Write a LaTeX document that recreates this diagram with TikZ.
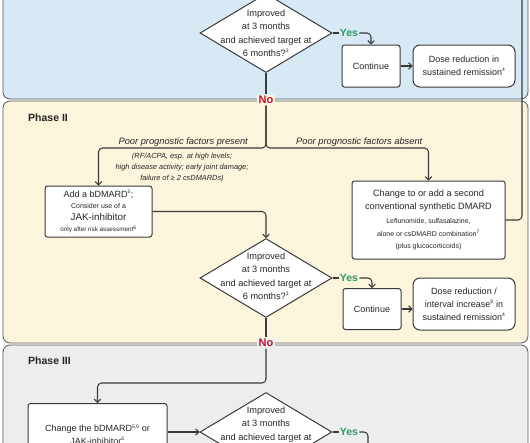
\documentclass[tikz,border=0pt]{standalone}
\usepackage{fontspec}
\setmainfont{Liberation Sans}
\usetikzlibrary{arrows.meta,shapes.geometric}
\definecolor{pone}{HTML}{D6E9F5}
\definecolor{ptwo}{HTML}{FBF5DC}
\definecolor{pthree}{HTML}{ECEEEE}
\definecolor{pborder}{HTML}{555555}
\definecolor{conncol}{HTML}{3A3A3A}
\definecolor{yescol}{HTML}{2E9B5C}
\definecolor{nocol}{HTML}{C8102E}
\tikzset{
  panel/.style={draw=pborder,line width=0.8pt,rounded corners=7pt},
  conn/.style={draw=conncol,line width=1.05pt,rounded corners=4pt},
  arr/.style={-{Straight Barb[length=3.2pt,width=6.5pt]}},
  dia/.style={shape=diamond,draw=conncol,line width=1pt,fill=white,minimum width=132pt,minimum height=79pt,inner sep=0pt},
  diatext/.style={align=center,font=\fontsize{9.2}{13.5}\selectfont,text=black!85,inner sep=0pt},
  boxs/.style={draw=conncol,line width=1pt,fill=white,rounded corners=2.5pt,align=center,font=\fontsize{9}{12.5}\selectfont,text=black!85,inner sep=0pt},
  boxr/.style={draw=conncol,line width=1pt,fill=white,rounded corners=7pt,align=center,font=\fontsize{9}{13}\selectfont,text=black!85,inner sep=0pt},
  yeslab/.style={font=\fontsize{10.5}{12}\selectfont\bfseries,text=yescol,inner sep=1pt},
  nolab/.style={font=\fontsize{11}{12}\selectfont\bfseries,text=nocol,inner sep=1.5pt},
  phaselab/.style={font=\fontsize{10.5}{12}\selectfont\bfseries,text=black!85,anchor=west,inner sep=0pt},
  itlab/.style={font=\fontsize{9.3}{10}\selectfont\itshape,text=black!85,inner sep=0pt},
  smallit/.style={font=\fontsize{7.4}{11}\selectfont\itshape,text=black!85,align=center,inner sep=0pt}
}
\newcommand{\sps}[1]{\textsuperscript{\fontsize{5}{5}\selectfont #1}}
\begin{document}
\begin{tikzpicture}[x=1pt,y=-1pt]
\useasboundingbox (0,0) rectangle (530,442);
% panels
\path[panel,fill=pone] (3,-30) rectangle (528,99);
\path[panel,fill=ptwo] (3,101) rectangle (528,343);
\path[panel,fill=pthree] (3,345) rectangle (528,480);

% Phase I
\node[dia] (d1) at (266,33) {};
\node[diatext] (d1t) at (266,33) {Improved\\at 3 months\\and achieved target at\\6 months?\sps{3}};
\node[yeslab] (y1) at (349,33) {Yes};
\node[boxs,minimum width=58pt,minimum height=42pt] (c1) at (371,66) {Continue};
\node[boxr,minimum width=102pt,minimum height=42pt] (r1) at (464,66) {Dose reduction in\\sustained remission\sps{4}};
\node[nolab,fill=ptwo] (no1) at (266,100) {No};

% Phase II
\node[phaselab] (ph2) at (28,118) {Phase II};
\coordinate (sp2) at (266,148);
\node[itlab,anchor=east] (ppp) at (248,142) {Poor prognostic factors present};
\node[itlab,anchor=west] (ppa) at (296,142) {Poor prognostic factors absent};
\node[smallit] (ppd) at (182,168) {(RF/ACPA, esp. at high levels;\\high disease activity; early joint damage;\\failure of \char"2265\ 2 csDMARDs)};
\node[boxs,minimum width=107pt,minimum height=51pt] (b1) at (98.5,211.5) {%
  \fontsize{9}{11}\selectfont Add a bDMARD\sps{5};\\[-1pt]
  \fontsize{7}{10}\selectfont Consider use of a\\[-1pt]
  \fontsize{9.8}{11}\selectfont JAK-inhibitor\\[-1pt]
  \fontsize{6.3}{9}\selectfont only after risk assessment\sps{6}};
\node[boxs,minimum width=153pt,minimum height=78pt] (ch) at (428.5,220) {%
  \fontsize{9.2}{13.5}\selectfont Change to or add a second\\
  \fontsize{9.2}{13.5}\selectfont conventional synthetic DMARD\\[2pt]
  \fontsize{7}{10}\selectfont Leflunomide, sulfasalazine,\\
  \fontsize{7}{10}\selectfont alone or csDMARD combination\sps{7}\\
  \fontsize{7}{10}\selectfont (plus glucocorticoids)};
\coordinate (up1) at (522,-30);
\node[dia] (d2) at (266,278) {};
\node[diatext] (d2t) at (266,276) {Improved\\at 3 months\\and achieved target at\\6 months?\sps{3}};
\node[yeslab] (y2) at (349,278) {Yes};
\node[boxs,minimum width=58pt,minimum height=41pt] (c2) at (372,309) {Continue};
\node[boxr,minimum width=102pt,minimum height=52pt] (r2) at (464,304) {Dose reduction /\\interval increase\sps{8} in\\sustained remission\sps{4}};
\node[nolab,fill=pthree] (no2) at (266,343) {No};

% Phase III
\node[phaselab] (ph3) at (28,361) {Phase III};
\coordinate (sp3) at (266,383);
\node[boxs,minimum width=139pt,minimum height=62pt,anchor=north] (cb) at (97.5,403) {Change the bDMARD\sps{5,9} or\\JAK-inhibitor\sps{6}};
\node[dia] (d3) at (266,432) {};
\node[diatext] (d3t) at (266,430) {Improved\\at 3 months\\and achieved target at\\6 months?\sps{3}};
\node[yeslab] (y3) at (349,432) {Yes};
\coordinate (y3e) at (368,470);

% connectors
\draw[conn] (d1.east) -- (y1.west);
\draw[conn,arr] (y1.east) -| (c1.north);
\draw[conn,arr] (c1.east) -- (r1.west |- c1.east);
\draw[conn] (d1.south) -- (no1.north);
\draw[conn,arr] (no1.south) -- (sp2) -| (b1.north);
\draw[conn,arr] (no1.south) -- (sp2) -| (ch.north);
\draw[conn] (ch.east) -| (up1);
\draw[conn,arr] (b1.east) -| (d2.north);
\draw[conn] (d2.east) -- (y2.west);
\draw[conn,arr] (y2.east) -| (c2.north);
\draw[conn,arr] (c2.east) -- (r2.west |- c2.east);
\draw[conn] (d2.south) -- (no2.north);
\draw[conn,arr] (no2.south) -- (sp3) -| (cb.north);
\draw[conn,arr] (cb.east |- d3.west) -- (d3.west);
\draw[conn] (d3.east) -- (y3.west);
\draw[conn] (y3.east) -| (y3e);
\end{tikzpicture}
\end{document}
